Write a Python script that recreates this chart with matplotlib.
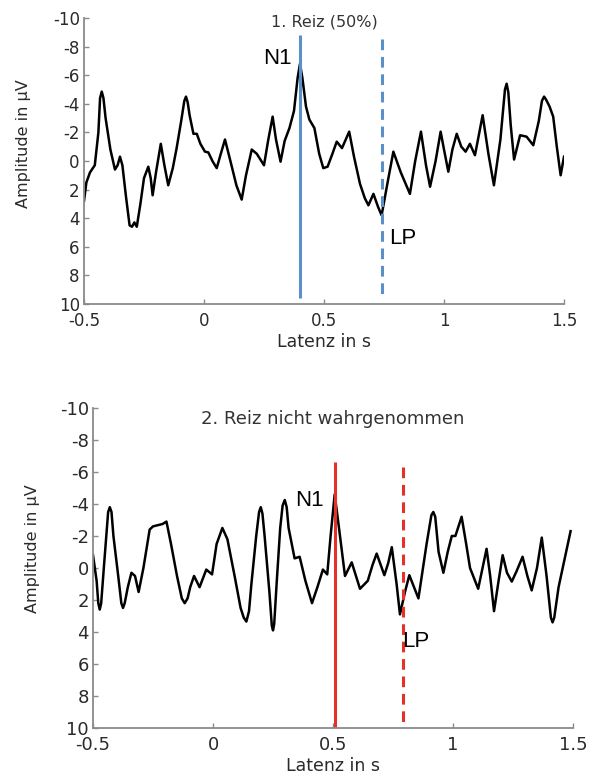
#!/usr/bin/env python

import numpy as np
import matplotlib
matplotlib.use('Agg')
import matplotlib.pyplot as plt

# ERP traces, latency in s, amplitude in microvolt (negative up)
lat1 = [-0.5, -0.49, -0.475, -0.455, -0.44, -0.433, -0.426, -0.419, -0.41, -0.39,
        -0.371, -0.36, -0.35, -0.34, -0.325, -0.31, -0.3, -0.29, -0.28, -0.265,
        -0.25, -0.232, -0.222, -0.214, -0.2, -0.18, -0.165, -0.149, -0.13, -0.114,
        -0.095, -0.082, -0.075, -0.068, -0.06, -0.044, -0.03, -0.015, 0.004, 0.018,
        0.035, 0.053, 0.07, 0.0875, 0.11, 0.135, 0.157, 0.175, 0.199, 0.22,
        0.25, 0.268, 0.286, 0.3, 0.319, 0.336, 0.356, 0.375, 0.39, 0.40,
        0.41, 0.425, 0.439, 0.46, 0.48, 0.497, 0.515, 0.535, 0.553, 0.575,
        0.605, 0.625, 0.65, 0.67, 0.685, 0.706, 0.725, 0.74, 0.765, 0.789,
        0.82, 0.858, 0.88, 0.904, 0.925, 0.942, 0.965, 0.986, 1.0, 1.018,
        1.035, 1.053, 1.072, 1.09, 1.108, 1.129, 1.145, 1.161, 1.185, 1.208,
        1.235, 1.254, 1.261, 1.268, 1.278, 1.292, 1.317, 1.344, 1.372, 1.395,
        1.408, 1.417, 1.425, 1.44, 1.455, 1.47, 1.486, 1.5]
amp1 = [2.8, 1.5, 0.8, 0.3, -2.0, -4.4, -4.85, -4.4, -3.0, -0.8,
        0.6, 0.3, -0.3, 0.3, 2.5, 4.5, 4.6, 4.3, 4.6, 3.0,
        1.2, 0.4, 1.2, 2.4, 0.8, -1.2, 0.3, 1.7, 0.5, -0.9,
        -2.8, -4.2, -4.5, -4.1, -3.2, -1.9, -1.9, -1.2, -0.65, -0.6,
        0.0, 0.5, -0.5, -1.5, 0.0, 1.7, 2.7, 1.0, -0.8, -0.5,
        0.3, -1.5, -3.1, -1.5, 0.05, -1.4, -2.3, -3.5, -5.8, -6.8,
        -5.8, -3.8, -2.9, -2.3, -0.5, 0.5, 0.4, -0.5, -1.35, -0.9,
        -2.05, -0.3, 1.6, 2.6, 3.1, 2.3, 3.2, 3.8, 1.5, -0.65,
        0.8, 2.3, 0.0, -2.05, 0.3, 1.8, 0.0, -2.05, -0.8, 0.75,
        -0.8, -1.9, -1.0, -0.65, -1.2, -0.4, -1.8, -3.2, -0.5, 1.7,
        -1.5, -5.0, -5.4, -4.8, -2.5, -0.1, -1.8, -1.7, -1.1, -2.8,
        -4.2, -4.5, -4.3, -3.8, -3.1, -1.0, 1.0, -0.3]

lat2 = [-0.5, -0.485, -0.478, -0.472, -0.466, -0.455, -0.437, -0.43, -0.423, -0.415,
        -0.395, -0.382, -0.375, -0.368, -0.355, -0.34, -0.325, -0.31, -0.29, -0.264,
        -0.25, -0.21, -0.194, -0.175, -0.15, -0.13, -0.118, -0.106, -0.095, -0.079,
        -0.056, -0.028, -0.004, 0.015, 0.039, 0.06, 0.09, 0.115, 0.128, 0.139,
        0.15, 0.16, 0.18, 0.192, 0.199, 0.206, 0.215, 0.235, 0.245, 0.25,
        0.255, 0.265, 0.28, 0.29, 0.299, 0.307, 0.315, 0.34, 0.361, 0.385,
        0.4125, 0.435, 0.458, 0.476, 0.49, 0.507, 0.525, 0.55, 0.578, 0.6125,
        0.645, 0.665, 0.682, 0.714, 0.73, 0.745, 0.765, 0.779, 0.8, 0.818,
        0.856, 0.89, 0.91, 0.918, 0.926, 0.94, 0.96, 0.978, 0.995, 1.01,
        1.036, 1.055, 1.071, 1.105, 1.14, 1.155, 1.171, 1.19, 1.207, 1.225,
        1.245, 1.265, 1.29, 1.31, 1.328, 1.35, 1.37, 1.39, 1.408, 1.415,
        1.422, 1.44, 1.46, 1.49]
amp2 = [-0.8, 0.8, 2.2, 2.6, 2.2, 0.0, -3.5, -3.8, -3.5, -2.0,
        0.5, 2.2, 2.5, 2.2, 1.2, 0.3, 0.5, 1.5, 0.0, -2.4,
        -2.6, -2.75, -2.9, -1.5, 0.5, 1.9, 2.2, 1.9, 1.2, 0.5,
        1.2, 0.1, 0.4, -1.5, -2.5, -1.8, 0.5, 2.5, 3.1, 3.35,
        2.7, 1.0, -2.0, -3.5, -3.8, -3.4, -2.0, 1.5, 3.6, 3.9,
        3.5, 1.0, -2.5, -3.9, -4.25, -3.8, -2.5, -0.6, -0.7, 0.8,
        2.2, 1.2, 0.1, 0.4, -2.0, -4.6, -2.5, 0.5, -0.35, 1.3,
        0.8, -0.2, -0.9, 0.45, -0.3, -1.3, 1.0, 2.9, 1.5, 0.45,
        1.9, -1.5, -3.3, -3.5, -3.2, -1.0, 0.3, -1.0, -2.0, -2.0,
        -3.2, -1.5, 0.0, 1.3, -1.2, 0.5, 2.7, 0.8, -0.8, 0.3,
        0.85, 0.2, -0.7, 0.5, 1.4, 0.0, -1.9, 0.5, 3.1, 3.4,
        3.1, 1.2, -0.2, -2.3]

# stimulus markers: latency, amplitude extent
n1_lat = [0.40, 0.51]
n1_span = [(-8.8, 9.6), (-6.6, 10.0)]
lp_lat = [0.74, 0.79]
lp_span = [(-8.5, 9.4), (-6.3, 9.7)]

titles = ['1. Reiz (50%)', '2. Reiz nicht wahrgenommen']
marker_colours = ['#5b8fc9', '#e53228']

# label anchors (latency, amplitude)
n1_text = [(0.246, -7.2), (0.342, -4.2)]
lp_text = [(0.771, 5.45), (0.7875, 4.6)]

xticks = [-0.5, 0, 0.5, 1, 1.5]
xticklabels = ['-0.5', '0', '0.5', '1', '1.5']
yticks = list(range(-10, 11, 2))

fig = plt.figure(figsize=(5.94, 7.78), dpi=100)
axes = [fig.add_axes([0.1414, 0.6093, 0.8081, 0.3676]),
        fig.add_axes([0.1566, 0.0643, 0.8080, 0.4113])]
traces = [(lat1, amp1), (lat2, amp2)]
ticksize = [12, 13]
titlesize = [11.5, 13]
title_y = [0.986, 0.966]

for i, ax in enumerate(axes):
    lat, amp = traces[i]
    ax.plot(lat, amp, color='k', lw=1.8, solid_joinstyle='round')

    ax.plot([n1_lat[i], n1_lat[i]], n1_span[i], color=marker_colours[i],
            lw=2.2, solid_capstyle='butt')
    ax.plot([lp_lat[i], lp_lat[i]], lp_span[i], color=marker_colours[i],
            lw=2.2, ls=(0, (3.5, 2.2)))

    ax.text(n1_text[i][0], n1_text[i][1], 'N1', fontsize=16,
            family='Liberation Sans', ha='left', va='center')
    ax.text(lp_text[i][0], lp_text[i][1], 'LP', fontsize=16,
            family='Liberation Sans', ha='left', va='center')

    ax.text(0.5, title_y[i], titles[i], transform=ax.transAxes,
            ha='center', va='center', fontsize=titlesize[i], color='#333333')

    ax.set_xlim(-0.5, 1.5)
    ax.set_ylim(10, -10)
    ax.set_xticks(xticks)
    ax.set_xticklabels(xticklabels)
    ax.set_yticks(yticks)
    ax.set_yticklabels([str(v) for v in yticks])

    for side in ['top', 'right']:
        ax.spines[side].set_visible(False)
    for side in ['left', 'bottom']:
        ax.spines[side].set_color('#8a8a8a')
        ax.spines[side].set_linewidth(1.3)
    ax.tick_params(direction='in', length=3.5, width=1.0, color='#8a8a8a',
                   labelsize=ticksize[i], labelcolor='#2a2a2a')
    ax.tick_params(axis='x', pad=6)
    ax.tick_params(axis='y', pad=3)

    ax.set_xlabel('Latenz in s', fontsize=12.5, color='#2a2a2a', labelpad=2)
    ax.set_ylabel('Amplitude in \u00b5V', fontsize=11.5, color='#2a2a2a',
                  family='Liberation Sans Narrow')
    ax.yaxis.set_label_coords(-0.11, 0.56)

fig.savefig('out.png', dpi=100)
